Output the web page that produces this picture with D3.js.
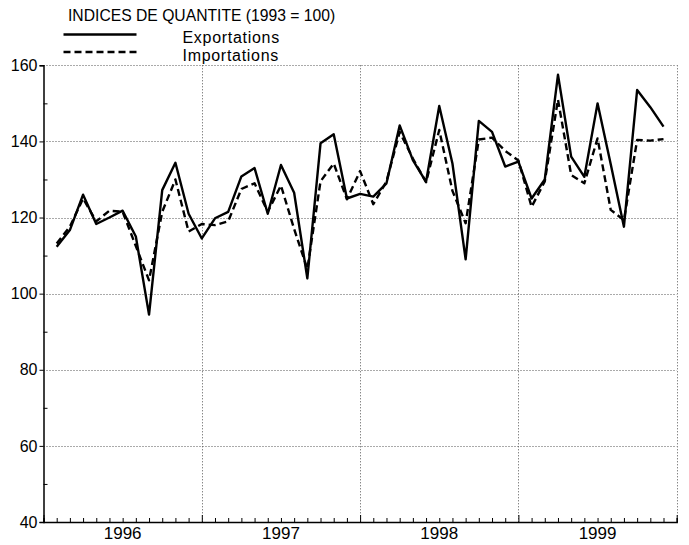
<!DOCTYPE html>
<html>
<head>
<meta charset="utf-8">
<script src="https://cdn.jsdelivr.net/npm/d3@7"></script>
<style>
html,body{margin:0;padding:0;background:#fff;}
svg{display:block;font-family:"Liberation Sans",Arial,Helvetica,sans-serif;}
</style>
</head>
<body>
<svg id="chart" width="689" height="545"></svg>
<script>
// Monthly quantity indices (1993 = 100), Jan 1996 - Nov 1999
const years = ["1996", "1997", "1998", "1999"];
const exportations = [112.3, 116.7, 126, 118.3, 120, 121.8, 115, 94.5, 127.2, 134.4, 121, 114.5,
  119.8, 121.5, 130.8, 133, 121, 133.8, 126.5, 104, 139.5, 141.9, 125, 126.2,
  125.5, 129, 144.2, 135.1, 129.4, 149.3, 134.2, 109, 145.4, 142.5, 133.4, 134.7,
  125, 130, 157.5, 136, 130.7, 150, 134, 117.6, 153.5, 149, 143.9];
const importations = [113.2, 117.6, 125, 119, 121.8, 121.5, 112.5, 103.5, 121.5, 130, 116.3, 118.3,
  118, 119, 127.5, 129, 121.5, 128.4, 117, 106.5, 129.5, 134.2, 124.8, 132.2,
  123.5, 129.5, 142.5, 135.5, 129.3, 143, 127, 118.5, 140.5, 141, 137.5, 135,
  122.8, 129.5, 151, 131.2, 129, 140.8, 122, 119.3, 140.4, 140.2, 140.6];
const yTicks = [40, 60, 80, 100, 120, 140, 160];
const yMinor = [50, 70, 90, 110, 130, 150];
const title = "INDICES DE QUANTITE (1993 = 100)";
const legendLabels = ["Exportations", "Importations"];

(function () {
const svg = d3.select("#chart");
const pL = 43.5, pR = 676.7, pT = 65.3, pB = 522;
const nMonths = years.length * 12;
const x = d3.scaleLinear().domain([0, nMonths]).range([pL, pR]);
const y = d3.scaleLinear().domain([40, 160]).range([pB, pT]);

const grid = svg.append("g").attr("stroke", "#555").attr("stroke-width", 1).attr("stroke-dasharray", "1,2");
grid.selectAll("line.h").data(yTicks.slice(1)).join("line")
  .attr("x1", pL).attr("x2", pR)
  .attr("y1", d => Math.round(y(d)) + 0.5).attr("y2", d => Math.round(y(d)) + 0.5);
grid.selectAll("line.v").data(d3.range(1, years.length + 1).map(i => i * 12)).join("line")
  .attr("x1", d => Math.round(x(d)) + 0.5).attr("x2", d => Math.round(x(d)) + 0.5)
  .attr("y1", pT).attr("y2", pB);

const xAxis = d3.axisBottom(x).tickValues(d3.range(0, nMonths + 1)).tickSize(-4).tickFormat("");
const gx = svg.append("g").attr("transform", `translate(0,${pB})`).call(xAxis);
gx.select(".domain").attr("stroke", "#000").attr("stroke-width", 1.5);
gx.selectAll(".tick line").attr("stroke", "#000").attr("stroke-width", 1)
  .attr("y2", d => d % 12 === 0 ? -7 : -4);

const xLab = svg.append("g").attr("font-size", 17).attr("fill", "#000");
xLab.selectAll("text").data(years).join("text")
  .attr("x", (d, i) => x(i * 12 + 6)).attr("y", 538.5)
  .attr("text-anchor", "middle").text(d => d);

const yAxis = d3.axisLeft(y).tickValues(yTicks).tickSize(4).tickPadding(2);
const gy = svg.append("g").attr("transform", `translate(${pL},0)`).call(yAxis);
gy.select(".domain").attr("stroke", "#000").attr("stroke-width", 1.5);
gy.selectAll(".tick line").attr("stroke", "#000");
gy.selectAll(".tick text").attr("font-size", 16).attr("font-family", "Liberation Sans, Arial, sans-serif").attr("fill", "#000");
const yMin = d3.axisRight(y).tickValues(yMinor).tickSize(4).tickFormat("");
const gym = svg.append("g").attr("transform", `translate(${pL},0)`).call(yMin);
gym.select(".domain").remove();
gym.selectAll(".tick line").attr("stroke", "#000");

const line = d3.line().x((d, i) => x(i + 1)).y(d => y(d));
svg.append("path").datum(importations).attr("d", line)
  .attr("fill", "none").attr("stroke", "#000").attr("stroke-width", 2.4)
  .attr("stroke-dasharray", "7,4").attr("stroke-linejoin", "round");
svg.append("path").datum(exportations).attr("d", line)
  .attr("fill", "none").attr("stroke", "#000").attr("stroke-width", 2.4)
  .attr("stroke-linejoin", "round");

svg.append("text").attr("x", 68).attr("y", 21).attr("font-size", 15.7).attr("fill", "#000").text(title);
const leg = svg.append("g");
const legY = [34.5, 52];
const legDash = [null, "7,4"];
leg.selectAll("line").data(legendLabels).join("line")
  .attr("x1", 63.5).attr("x2", 136.5)
  .attr("y1", (d, i) => legY[i]).attr("y2", (d, i) => legY[i])
  .attr("stroke", "#000").attr("stroke-width", 2.6)
  .attr("stroke-dasharray", (d, i) => legDash[i]);
leg.selectAll("text").data(legendLabels).join("text")
  .attr("x", 182.5).attr("y", (d, i) => [43, 61][i])
  .attr("font-size", 16).attr("letter-spacing", 0.7).attr("fill", "#000").text(d => d);
})();
</script>
</body>
</html>
